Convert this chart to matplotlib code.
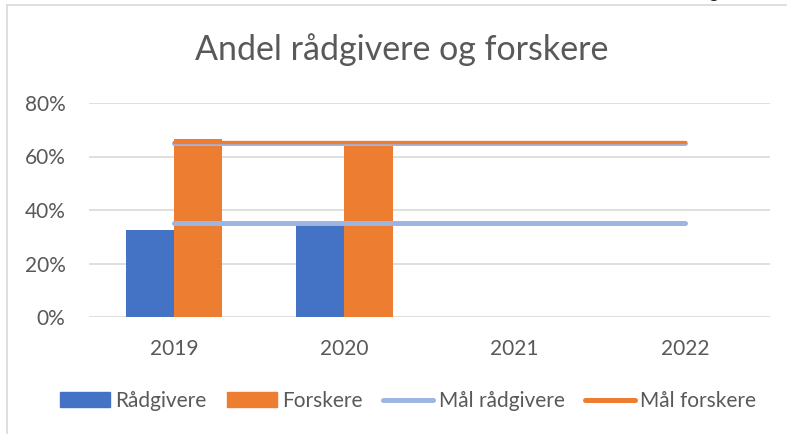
import matplotlib
matplotlib.use("Agg")
import matplotlib.pyplot as plt
from matplotlib.lines import Line2D
from matplotlib.patches import Patch
import matplotlib.transforms as mtransforms
import numpy as np

categories = ["2019", "2020", "2021", "2022"]
radgivere = [0.325, 0.34, np.nan, np.nan]
forskere = [0.665, 0.64, np.nan, np.nan]
mal_radgivere = [0.35, 0.35, 0.35, 0.35]
mal_forskere = [0.65, 0.65, 0.65, 0.65]
yticks = [0, 0.2, 0.4, 0.6, 0.8]
ytick_labels = ["0%", "20%", "40%", "60%", "80%"]

BLUE = "#4472C4"
ORANGE = "#ED7D31"
LBLUE = "#9DB5E1"
GRID = "#D9D9D9"
TXT = "#595959"
FONT = ["Lato", "DejaVu Sans"]
plt.rcParams["font.family"] = FONT

fig = plt.figure(figsize=(7.87, 4.34), dpi=100)
ax = fig.add_axes([89/787, 1-317/434, (770-89)/787, (317-103)/434])

x = np.arange(len(categories))
w = 0.283
ax.bar(x - w/2, radgivere, width=w, color=BLUE, zorder=2)
ax.bar(x + w/2, forskere, width=w, color=ORANGE, zorder=2)

lw = 3.6
ax.plot(x, mal_radgivere, color=LBLUE, lw=lw, solid_capstyle="round", zorder=3)
ax.plot(x, mal_forskere, color=LBLUE, lw=lw, solid_capstyle="round", zorder=3)
up = mtransforms.offset_copy(ax.transData, fig=fig, x=0, y=1.6, units="dots")
ax.plot(x, mal_forskere, color=ORANGE, lw=2.4, solid_capstyle="round", zorder=4, transform=up)

ax.set_xlim(-0.5, len(categories) - 0.5)
ax.set_ylim(0, 0.8)
ax.set_yticks(yticks)
ax.set_yticklabels(ytick_labels)
ax.set_xticks(x)
ax.set_xticklabels(categories)
ax.grid(axis="y", color=GRID, lw=1.2, zorder=0)
ax.set_axisbelow(True)
for s in ax.spines.values():
    s.set_visible(False)
ax.tick_params(axis="both", length=0, colors=TXT, labelsize=15)
ax.tick_params(axis="y", pad=17)
ax.tick_params(axis="x", pad=16)

fig.text(402/787, 1-50/434, "Andel rådgivere og forskere", ha="center", va="center",
         fontsize=24.5, color=TXT)

handles = [
    Patch(color=BLUE),
    Patch(color=ORANGE),
    Line2D([0], [0], color=LBLUE, lw=lw, solid_capstyle="round"),
    Line2D([0], [0], color=ORANGE, lw=lw, solid_capstyle="round"),
]
labels = ["Rådgivere", "Forskere", "Mål rådgivere", "Mål forskere"]
fig.legend(handles, labels, loc="center", bbox_to_anchor=(408/787, 1-401/434), ncol=4,
           frameon=False, fontsize=15, labelcolor=TXT, handlelength=2.4,
           handleheight=0.75, handletextpad=0.25, columnspacing=1.0)

# chart border (left and top)
fig.add_artist(Line2D([7/787, 7/787], [0, 1-5/434], color=GRID, lw=1.2, transform=fig.transFigure))
fig.add_artist(Line2D([7/787, 1], [1-5/434, 1-5/434], color=GRID, lw=1.2, transform=fig.transFigure))
fig.text(713/787, 1+2/434, "g", ha="center", va="baseline", fontsize=14, color="#222222")

fig.savefig("out.png", dpi=100)
